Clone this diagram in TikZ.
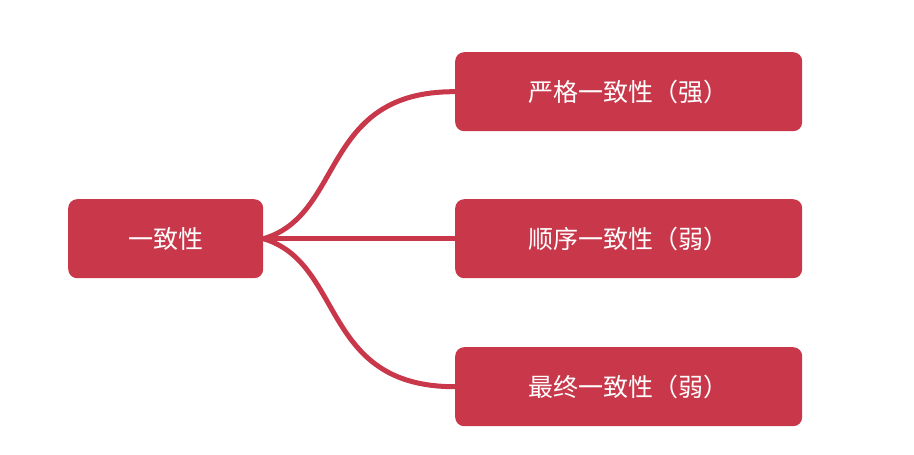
\documentclass[tikz,border=0pt]{standalone}
\usepackage{fontspec}
\setmainfont{Noto Sans CJK SC}
\definecolor{mred}{HTML}{C8384A}
\begin{document}
\begin{tikzpicture}[x=1pt,y=-1pt,
  box/.style={fill=mred,rounded corners=9pt,text=white,font=\fontsize{25}{30}\selectfont,inner sep=0pt,anchor=north west},
  link/.style={draw=mred,line width=5pt}]
\useasboundingbox (0,0) rectangle (914,455);
\node[box,minimum width=195pt,minimum height=79pt] (root) at (68,199) {一致性};
\node[box,minimum width=347pt,minimum height=79pt] (a) at (455,52) {严格一致性（强）};
\node[box,minimum width=347pt,minimum height=79pt] (b) at (455,199) {顺序一致性（弱）};
\node[box,minimum width=347pt,minimum height=79pt] (c) at (455,347) {最终一致性（弱）};
\draw[link] (root.east) .. controls (345,215) and (320,91) .. (a.west);
\draw[link] (root.east) -- (b.west);
\draw[link] (root.east) .. controls (345,263) and (320,387) .. (c.west);
\end{tikzpicture}
\end{document}
